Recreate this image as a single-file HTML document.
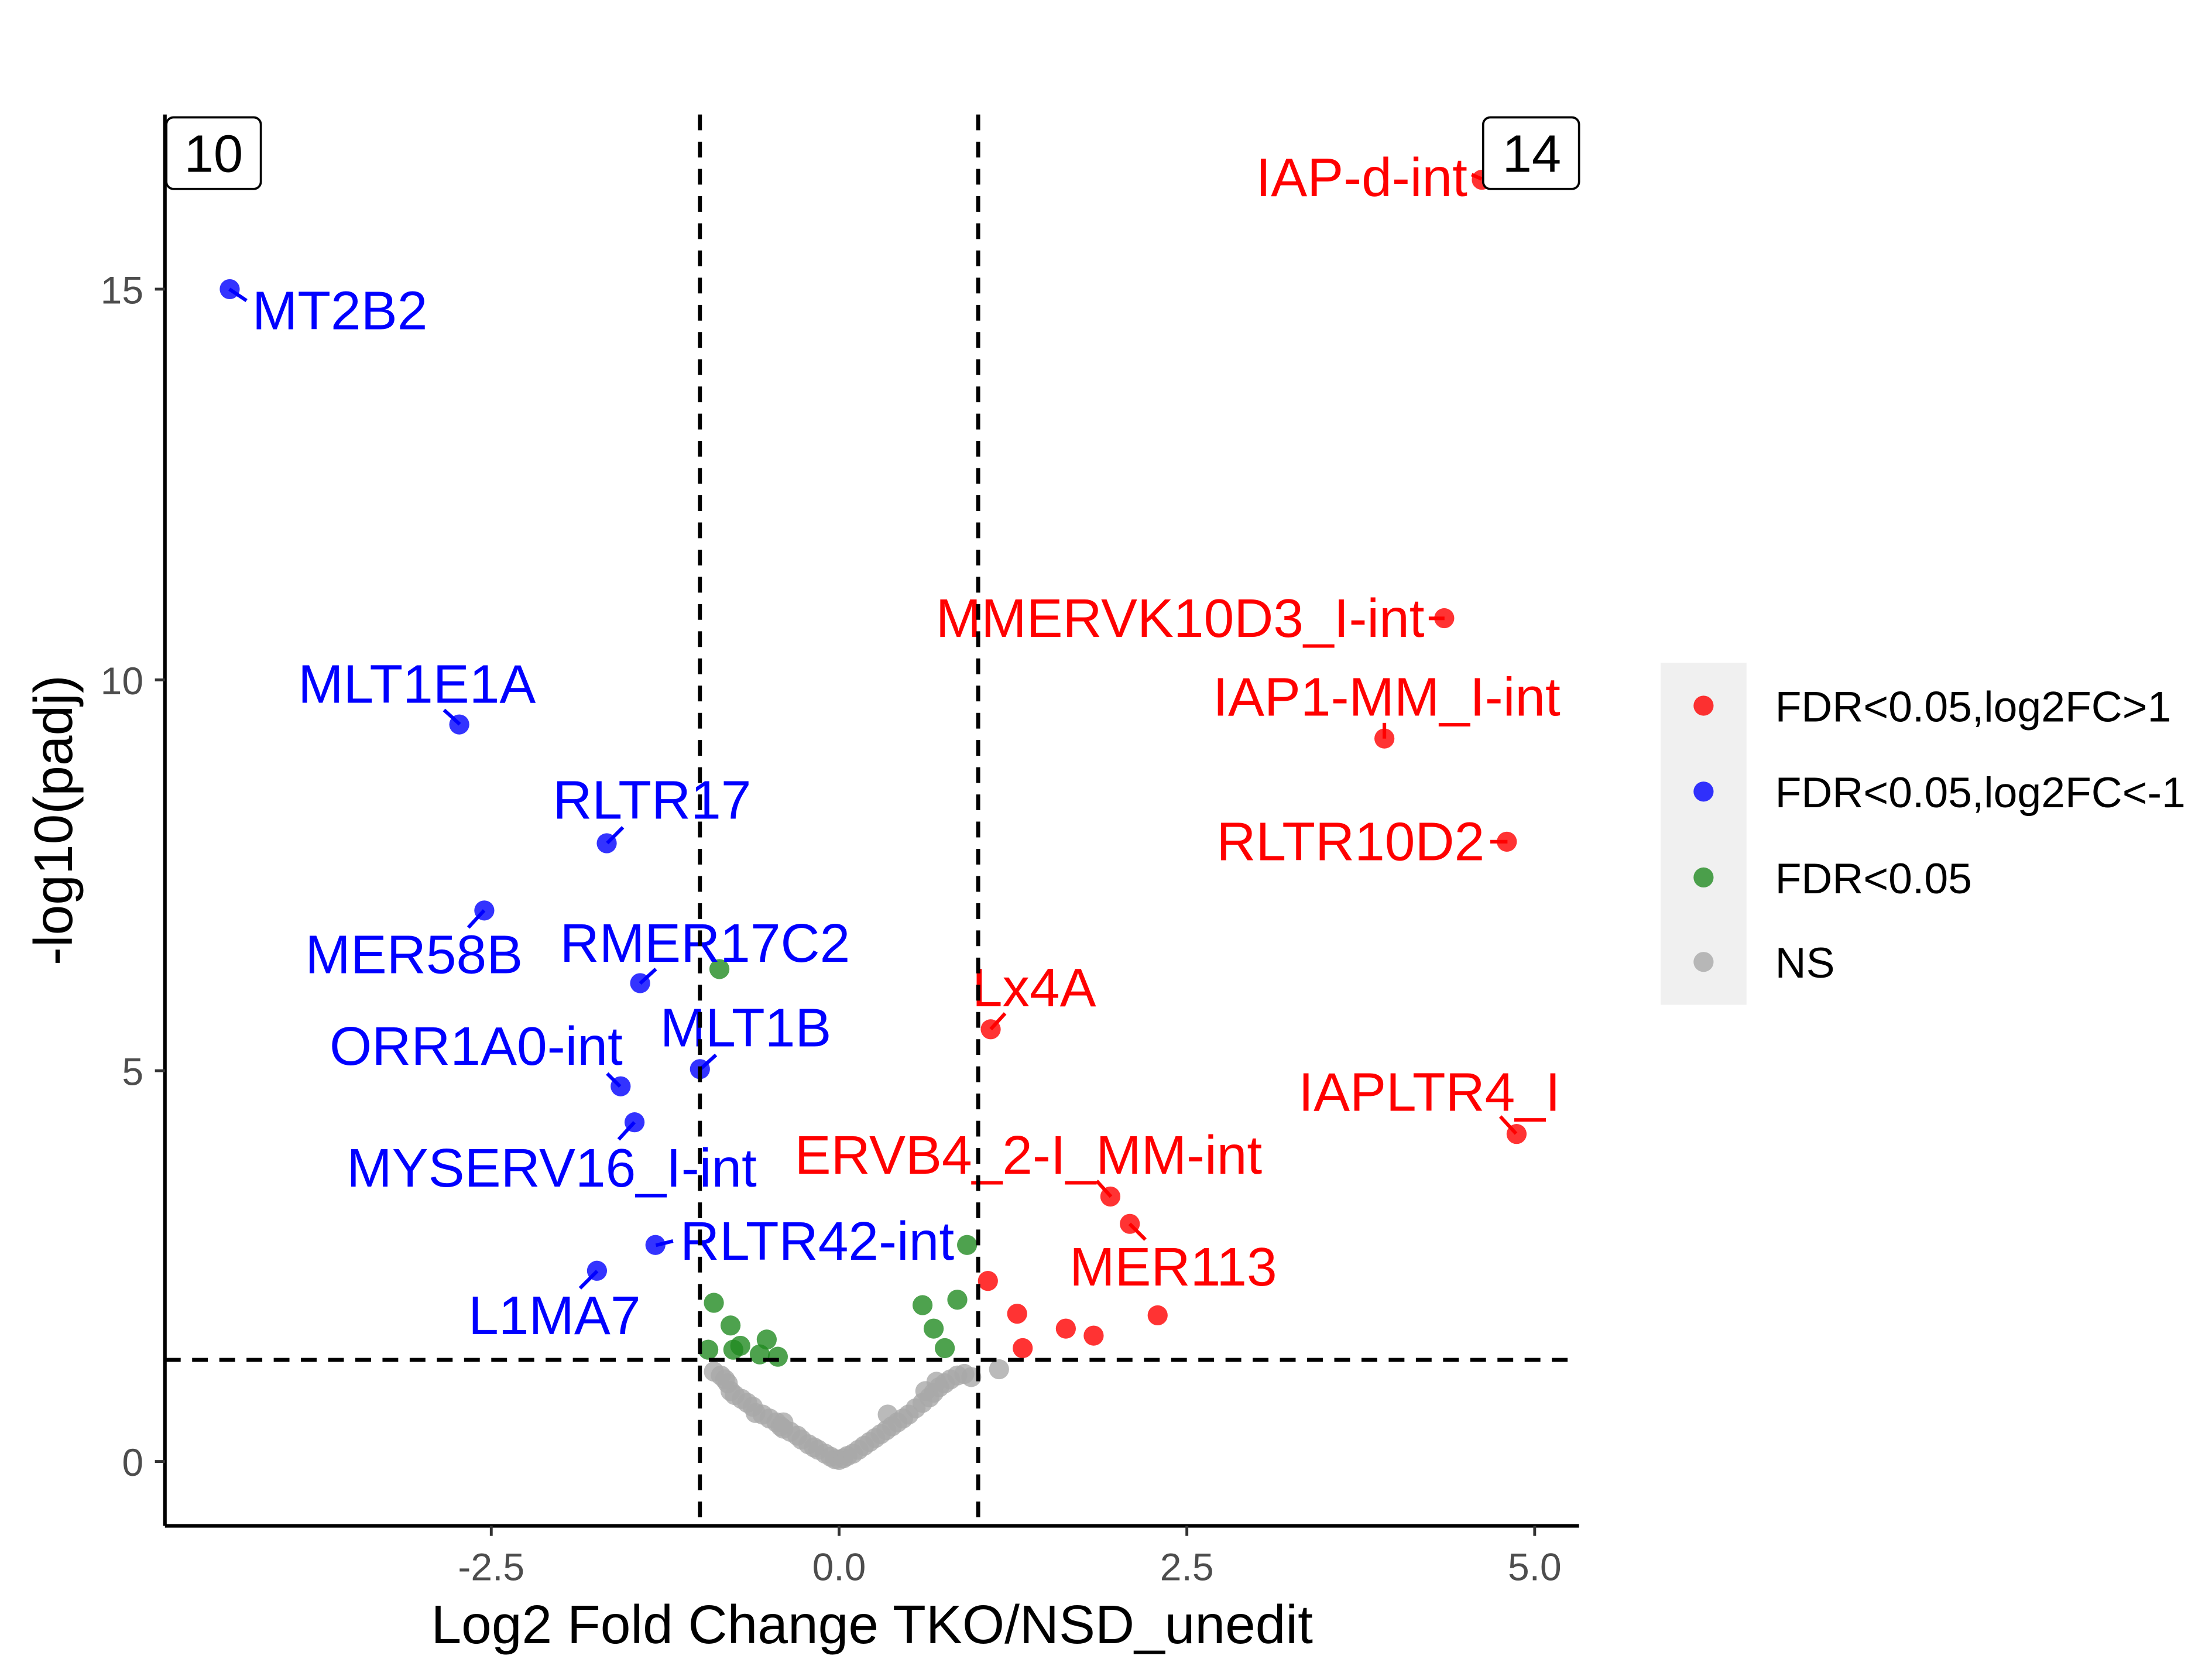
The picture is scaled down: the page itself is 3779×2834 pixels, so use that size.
<!DOCTYPE html>
<html><head><meta charset="utf-8"><style>html,body{margin:0;padding:0;background:#fff}svg{display:block}text{font-family:"Liberation Sans",Arial,sans-serif}</style></head>
<body>
<svg id="chart" xmlns="http://www.w3.org/2000/svg" width="3779" height="2834" viewBox="0 0 1545 1159">
<rect width="1545" height="1159" fill="#fff"/>
<g id="grey"></g>
<g id="marks"></g>
<g id="ann"></g>
<g id="axes"></g>
<g>
<rect x="1160" y="463" width="60" height="239" fill="#f0f0f0"/>
<circle cx="1190" cy="493" r="7" fill="#ff0000" fill-opacity="0.8"/>
<circle cx="1190" cy="553" r="7" fill="#0000ff" fill-opacity="0.8"/>
<circle cx="1190" cy="613" r="7" fill="#228b22" fill-opacity="0.8"/>
<circle cx="1190" cy="672" r="7" fill="#a9a9a9" fill-opacity="0.8"/>
<text x="1240" y="504" font-size="30">FDR&lt;0.05,log2FC&gt;1</text>
<text x="1240" y="564" font-size="30">FDR&lt;0.05,log2FC&lt;-1</text>
<text x="1240" y="624" font-size="30">FDR&lt;0.05</text>
<text x="1240" y="683" font-size="30">NS</text>
</g>
<g>
<rect x="116" y="82" width="66" height="50" rx="5" fill="#fff" stroke="#000" stroke-width="1.5"/>
<text x="149" y="120" font-size="37" text-anchor="middle">10</text>
<rect x="1036" y="82" width="67" height="50" rx="5" fill="#fff" stroke="#000" stroke-width="1.5"/>
<text x="1070" y="120" font-size="37" text-anchor="middle">14</text>
</g>
<text x="609" y="1148" font-size="38" text-anchor="middle">Log2 Fold Change TKO/NSD_unedit</text>
<text transform="translate(50,573) rotate(-90)" font-size="38" text-anchor="middle">-log10(padj)</text>
</svg>
<script>
const upX=[4.62,4.35,3.92,4.80,1.09,4.87,1.95,2.09,1.07,1.28,1.63,1.83,2.29,1.32];
const upY=[16.4,10.79,9.25,7.93,5.53,4.19,3.39,3.04,2.31,1.89,1.70,1.61,1.87,1.45];
const downX=[-4.38,-2.73,-1.67,-2.55,-1.43,-1.00,-1.57,-1.47,-1.32,-1.74];
const downY=[15.0,9.43,7.91,7.05,6.12,5.02,4.80,4.34,2.77,2.44];
const fdrX=[-0.86,0.92,-0.90,-0.78,-0.71,-0.94,-0.52,-0.57,-0.44,-0.76,0.60,0.85,0.68,0.76];
const fdrY=[6.30,2.77,2.03,1.74,1.48,1.43,1.56,1.37,1.34,1.43,2.00,2.07,1.70,1.45];
const nsX=[-0.9,-0.85,-0.8,-0.78,-0.75,-0.7,-0.66,-0.62,-0.6,-0.55,-0.5,-0.45,-0.42,-0.4,-0.35,-0.3,-0.27,-0.22,-0.18,-0.15,-0.1,-0.06,-0.03,0,0.03,0.06,0.1,0.14,0.18,0.22,0.26,0.3,0.34,0.38,0.42,0.46,0.5,0.55,0.6,0.65,0.68,0.72,0.76,0.8,0.85,0.9,0.95,1.15,-0.4,-0.82,0.35,0.62,0.7];
const nsY=[1.15,1.1,1.0,0.9,0.85,0.8,0.75,0.7,0.62,0.6,0.55,0.5,0.45,0.42,0.38,0.33,0.28,0.22,0.18,0.15,0.1,0.06,0.03,0.02,0.04,0.07,0.1,0.15,0.2,0.25,0.3,0.35,0.4,0.45,0.5,0.55,0.6,0.68,0.75,0.82,0.88,0.95,1.0,1.05,1.1,1.12,1.08,1.18,0.5,1.05,0.6,0.9,1.02];
const xTicks=[-2.5,0.0,2.5,5.0];
const yTicks=[0,5,10,15];
const NS="http://www.w3.org/2000/svg";
const sx=v=>586+v*97.2, sy=v=>1021-v*54.6;
function mk(tag,attrs,parent){const e=document.createElementNS(NS,tag);for(const k in attrs)e.setAttribute(k,attrs[k]);parent.appendChild(e);return e;}
const grey=document.getElementById('grey'),marks=document.getElementById('marks'),axes=document.getElementById('axes'),ann=document.getElementById('ann');
nsX.forEach((x,i)=>{const c=mk('circle',{cx:sx(x),cy:sy(nsY[i]),r:7,fill:'#a9a9a9','fill-opacity':0.8},grey);

});
function series(X,Y,col,name){X.forEach((x,i)=>{const c=mk('circle',{cx:sx(x),cy:sy(Y[i]),r:7,fill:col,'fill-opacity':0.8},marks);

});}
series(fdrX,fdrY,'#228b22','fdr-point');
series(upX,upY,'#ff0000','up-point');
series(downX,downY,'#0000ff','down-point');
[[sx(-1),80,sx(-1),1066],[sx(1),80,sx(1),1066],[115,sy(1.3),1103,sy(1.3)]].forEach(l=>{const e=mk('line',{x1:l[0],y1:l[1],x2:l[2],y2:l[3],stroke:'#000','stroke-width':2.8,'stroke-dasharray':'11,8'},axes);

});
const xa=mk('line',{x1:115,y1:1066,x2:1103,y2:1066,stroke:'#000','stroke-width':2.5},axes);


const ya=mk('line',{x1:115,y1:80,x2:115,y2:1066,stroke:'#000','stroke-width':2.5},axes);


xTicks.forEach(v=>{mk('line',{x1:sx(v),y1:1066,x2:sx(v),y2:1073,stroke:'#333','stroke-width':2},axes);
const t=mk('text',{x:sx(v),y:1104,'font-size':27,'text-anchor':'middle',fill:'#4d4d4d'},axes);t.textContent=v.toFixed(1);

});
yTicks.forEach(v=>{mk('line',{x1:108,y1:sy(v),x2:115,y2:sy(v),stroke:'#333','stroke-width':2},axes);
const t=mk('text',{x:100,y:sy(v)+10,'font-size':27,'text-anchor':'end',fill:'#4d4d4d'},axes);t.textContent=v;

});
const labels=[
['MT2B2',176,230,'start','#0000ff',[160,202,172,210]],
['MLT1E1A',208,491,'start','#0000ff',[321,506,310,496]],
['RLTR17',386,572,'start','#0000ff',[424,589,435,578]],
['MER58B',213,680,'start','#0000ff',[338,636,327,648]],
['RMER17C2',391,672,'start','#0000ff',[447,687,458,677]],
['MLT1B',461,731,'start','#0000ff',[489,747,500,737]],
['ORR1A0-int',230,744,'start','#0000ff',[433,759,424,750]],
['MYSERV16_I-int',242,829,'start','#0000ff',[443,784,432,796]],
['RLTR42-int',475,880,'start','#0000ff',[458,870,470,867]],
['L1MA7',327,932,'start','#0000ff',[417,888,405,900]],
['IAP-d-int',1025,137,'end','#ff0000',[1035,125,1028,122]],
['MMERVK10D3_I-int',995,445,'end','#ff0000',[1009,432,998,432]],
['IAP1-MM_I-int',1090,500,'end','#ff0000',[967,516,967,505]],
['RLTR10D2',1037,601,'end','#ff0000',[1053,588,1041,588]],
['Lx4A',679,703,'start','#ff0000',[692,719,702,708]],
['IAPLTR4_I',1090,776,'end','#ff0000',[1059,792,1048,780]],
['ERVB4_2-I_MM-int',555,820,'start','#ff0000',[776,836,766,825]],
['MER113',747,898,'start','#ff0000',[789,855,800,866]]];
labels.forEach(l=>{const s=l[5];mk('line',{x1:s[0],y1:s[1],x2:s[2],y2:s[3],stroke:l[4],'stroke-width':2.5},ann);
const t=mk('text',{x:l[1],y:l[2],'font-size':38,'text-anchor':l[3],fill:l[4]},ann);t.textContent=l[0];

});
</script>
</body></html>
